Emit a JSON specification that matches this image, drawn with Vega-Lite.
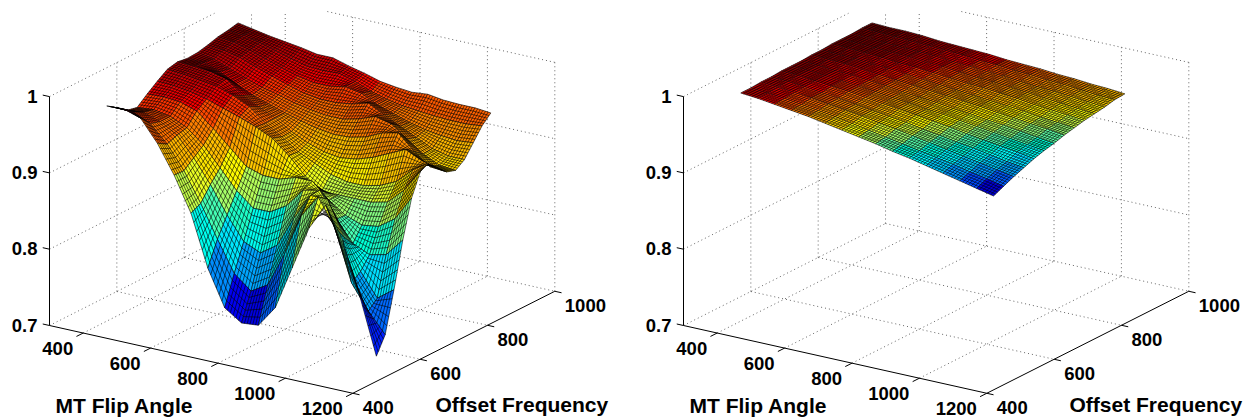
{"$schema":"https://vega.github.io/schema/vega-lite/v6.json","width":1246,"height":419,"padding":0,"autosize":{"type":"fit","contains":"padding"},"background":"white","view":{"stroke":null},"projection":{"type":"identity","scale":1,"translate":[0,0]},"datasets":{"frame":[
{"k":"dot","f":300,"o":600,"z":0.7,"f2":300,"o2":600,"z2":1},{"k":"dot","f":300,"o":800,"z":0.7,"f2":300,"o2":800,"z2":1},{"k":"dot","f":300,"o":1000,"z":0.7,"f2":300,"o2":1000,"z2":0.976},
{"k":"dot","f":400,"o":1000,"z":0.7,"f2":400,"o2":1000,"z2":0.986},{"k":"dot","f":600,"o":1000,"z":0.7,"f2":600,"o2":1000,"z2":1},{"k":"dot","f":800,"o":1000,"z":0.7,"f2":800,"o2":1000,"z2":1},{"k":"dot","f":1000,"o":1000,"z":0.7,"f2":1000,"o2":1000,"z2":1},{"k":"dot","f":1200,"o":1000,"z":0.7,"f2":1200,"o2":1000,"z2":1},
{"k":"dot","f":300,"o":400,"z":0.8,"f2":300,"o2":1000,"z2":0.8},{"k":"dot","f":300,"o":400,"z":0.9,"f2":300,"o2":1000,"z2":0.9},{"k":"dot","f":300,"o":400,"z":1,"f2":300,"o2":890,"z2":1},
{"k":"dot","f":300,"o":1000,"z":0.8,"f2":1200,"o2":1000,"z2":0.8},{"k":"dot","f":300,"o":1000,"z":0.9,"f2":1200,"o2":1000,"z2":0.9},{"k":"dot","f":525,"o":1000,"z":1,"f2":1200,"o2":1000,"z2":1},
{"k":"dot","f":300,"o":400,"z":0.7,"f2":300,"o2":1000,"z2":0.7},{"k":"dot","f":300,"o":1000,"z":0.7,"f2":1200,"o2":1000,"z2":0.7},
{"k":"dot","f":400,"o":400,"z":0.7,"f2":400,"o2":1000,"z2":0.7},{"k":"dot","f":600,"o":400,"z":0.7,"f2":600,"o2":1000,"z2":0.7},{"k":"dot","f":800,"o":400,"z":0.7,"f2":800,"o2":1000,"z2":0.7},{"k":"dot","f":1000,"o":400,"z":0.7,"f2":1000,"o2":1000,"z2":0.7},
{"k":"dot","f":300,"o":600,"z":0.7,"f2":1200,"o2":600,"z2":0.7},{"k":"dot","f":300,"o":800,"z":0.7,"f2":1200,"o2":800,"z2":0.7},
{"k":"ax","f":300,"o":400,"z":0.7,"f2":1200,"o2":400,"z2":0.7},{"k":"ax","f":1200,"o":400,"z":0.7,"f2":1200,"o2":1000,"z2":0.7},{"k":"ax","f":300,"o":400,"z":0.7,"f2":300,"o2":400,"z2":1},
{"k":"ax","f":300,"o":400,"z":0.7,"f2":280,"o2":400,"z2":0.7},{"k":"ax","f":300,"o":400,"z":0.8,"f2":280,"o2":400,"z2":0.8},{"k":"ax","f":300,"o":400,"z":0.9,"f2":280,"o2":400,"z2":0.9},{"k":"ax","f":300,"o":400,"z":1,"f2":280,"o2":400,"z2":1},
{"k":"ax","f":400,"o":400,"z":0.7,"f2":400,"o2":380,"z2":0.7},{"k":"ax","f":600,"o":400,"z":0.7,"f2":600,"o2":380,"z2":0.7},{"k":"ax","f":800,"o":400,"z":0.7,"f2":800,"o2":380,"z2":0.7},{"k":"ax","f":1000,"o":400,"z":0.7,"f2":1000,"o2":380,"z2":0.7},{"k":"ax","f":1200,"o":400,"z":0.7,"f2":1200,"o2":380,"z2":0.7},
{"k":"ax","f":1200,"o":400,"z":0.7,"f2":1220,"o2":400,"z2":0.7},{"k":"ax","f":1200,"o":600,"z":0.7,"f2":1220,"o2":600,"z2":0.7},{"k":"ax","f":1200,"o":800,"z":0.7,"f2":1220,"o2":800,"z2":0.7},{"k":"ax","f":1200,"o":1000,"z":0.7,"f2":1220,"o2":1000,"z2":0.7}
],"labels":[
{"k":"f","t":"400","f":400,"o":400,"z":0.7},{"k":"f","t":"600","f":600,"o":400,"z":0.7},{"k":"f","t":"800","f":800,"o":400,"z":0.7},{"k":"f","t":"1000","f":1000,"o":400,"z":0.7},{"k":"f","t":"1200","f":1200,"o":400,"z":0.7},
{"k":"o","t":"400","f":1200,"o":400,"z":0.7},{"k":"o","t":"600","f":1200,"o":600,"z":0.7},{"k":"o","t":"800","f":1200,"o":800,"z":0.7},{"k":"o","t":"1000","f":1200,"o":1000,"z":0.7},
{"k":"z","t":"0.7","f":300,"o":400,"z":0.7},{"k":"z","t":"0.8","f":300,"o":400,"z":0.8},{"k":"z","t":"0.9","f":300,"o":400,"z":0.9},{"k":"z","t":"1","f":300,"o":400,"z":1},
{"k":"t","t":"MT Flip Angle","f":521,"o":400,"z":0.615},{"k":"t","t":"Offset Frequency","f":1200,"o":902,"z":0.572}
],"surface":[
{"p":"A","f":400,"o":860,"z":1.004},{"p":"A","f":450,"o":860,"z":1.0},{"p":"A","f":500,"o":860,"z":0.996},{"p":"A","f":550,"o":860,"z":0.993},{"p":"A","f":600,"o":860,"z":0.99},{"p":"A","f":650,"o":860,"z":0.986},{"p":"A","f":700,"o":860,"z":0.986},{"p":"A","f":750,"o":860,"z":0.98},{"p":"A","f":800,"o":860,"z":0.975},{"p":"A","f":850,"o":860,"z":0.969},{"p":"A","f":900,"o":860,"z":0.966},{"p":"A","f":950,"o":860,"z":0.964},{"p":"A","f":1000,"o":860,"z":0.966},{"p":"A","f":1050,"o":860,"z":0.963},{"p":"A","f":1100,"o":860,"z":0.962},{"p":"A","f":1150,"o":860,"z":0.962},{"p":"A","f":1200,"o":860,"z":0.96},
{"p":"A","f":400,"o":830,"z":1.001},{"p":"A","f":450,"o":830,"z":0.999},{"p":"A","f":500,"o":830,"z":0.994},{"p":"A","f":550,"o":830,"z":0.988},{"p":"A","f":600,"o":830,"z":0.982},{"p":"A","f":650,"o":830,"z":0.977},{"p":"A","f":700,"o":830,"z":0.976},{"p":"A","f":750,"o":830,"z":0.977},{"p":"A","f":800,"o":830,"z":0.971},{"p":"A","f":850,"o":830,"z":0.963},{"p":"A","f":900,"o":830,"z":0.957},{"p":"A","f":950,"o":830,"z":0.953},{"p":"A","f":1000,"o":830,"z":0.951},{"p":"A","f":1050,"o":830,"z":0.949},{"p":"A","f":1100,"o":830,"z":0.948},{"p":"A","f":1150,"o":830,"z":0.948},{"p":"A","f":1200,"o":830,"z":0.95},
{"p":"A","f":400,"o":800,"z":0.999},{"p":"A","f":450,"o":800,"z":0.997},{"p":"A","f":500,"o":800,"z":0.991},{"p":"A","f":550,"o":800,"z":0.984},{"p":"A","f":600,"o":800,"z":0.977},{"p":"A","f":650,"o":800,"z":0.971},{"p":"A","f":700,"o":800,"z":0.967},{"p":"A","f":750,"o":800,"z":0.967},{"p":"A","f":800,"o":800,"z":0.971},{"p":"A","f":850,"o":800,"z":0.967},{"p":"A","f":900,"o":800,"z":0.957},{"p":"A","f":950,"o":800,"z":0.95},{"p":"A","f":1000,"o":800,"z":0.943},{"p":"A","f":1050,"o":800,"z":0.938},{"p":"A","f":1100,"o":800,"z":0.935},{"p":"A","f":1150,"o":800,"z":0.933},{"p":"A","f":1200,"o":800,"z":0.935},
{"p":"A","f":400,"o":770,"z":0.995},{"p":"A","f":450,"o":770,"z":0.993},{"p":"A","f":500,"o":770,"z":0.988},{"p":"A","f":550,"o":770,"z":0.98},{"p":"A","f":600,"o":770,"z":0.973},{"p":"A","f":650,"o":770,"z":0.966},{"p":"A","f":700,"o":770,"z":0.96},{"p":"A","f":750,"o":770,"z":0.957},{"p":"A","f":800,"o":770,"z":0.957},{"p":"A","f":850,"o":770,"z":0.96},{"p":"A","f":900,"o":770,"z":0.966},{"p":"A","f":950,"o":770,"z":0.955},{"p":"A","f":1000,"o":770,"z":0.945},{"p":"A","f":1050,"o":770,"z":0.935},{"p":"A","f":1100,"o":770,"z":0.925},{"p":"A","f":1150,"o":770,"z":0.92},{"p":"A","f":1200,"o":770,"z":0.92},
{"p":"A","f":400,"o":740,"z":0.992},{"p":"A","f":450,"o":740,"z":0.988},{"p":"A","f":500,"o":740,"z":0.98},{"p":"A","f":550,"o":740,"z":0.972},{"p":"A","f":600,"o":740,"z":0.965},{"p":"A","f":650,"o":740,"z":0.96},{"p":"A","f":700,"o":740,"z":0.954},{"p":"A","f":750,"o":740,"z":0.95},{"p":"A","f":800,"o":740,"z":0.947},{"p":"A","f":850,"o":740,"z":0.947},{"p":"A","f":900,"o":740,"z":0.952},{"p":"A","f":950,"o":740,"z":0.96},{"p":"A","f":1000,"o":740,"z":0.955},{"p":"A","f":1050,"o":740,"z":0.94},{"p":"A","f":1100,"o":740,"z":0.925},{"p":"A","f":1150,"o":740,"z":0.915},{"p":"A","f":1200,"o":740,"z":0.913},
{"p":"A","f":400,"o":710,"z":0.991},{"p":"A","f":450,"o":710,"z":0.99},{"p":"A","f":500,"o":710,"z":0.983},{"p":"A","f":550,"o":710,"z":0.972},{"p":"A","f":600,"o":710,"z":0.962},{"p":"A","f":650,"o":710,"z":0.955},{"p":"A","f":700,"o":710,"z":0.948},{"p":"A","f":750,"o":710,"z":0.942},{"p":"A","f":800,"o":710,"z":0.937},{"p":"A","f":850,"o":710,"z":0.934},{"p":"A","f":900,"o":710,"z":0.935},{"p":"A","f":950,"o":710,"z":0.94},{"p":"A","f":1000,"o":710,"z":0.95},{"p":"A","f":1050,"o":710,"z":0.955},{"p":"A","f":1100,"o":710,"z":0.935},{"p":"A","f":1150,"o":710,"z":0.92},{"p":"A","f":1200,"o":710,"z":0.918},
{"p":"A","f":400,"o":680,"z":0.993},{"p":"A","f":450,"o":680,"z":0.992},{"p":"A","f":500,"o":680,"z":0.99},{"p":"A","f":550,"o":680,"z":0.985},{"p":"A","f":600,"o":680,"z":0.968},{"p":"A","f":650,"o":680,"z":0.958},{"p":"A","f":700,"o":680,"z":0.948},{"p":"A","f":750,"o":680,"z":0.935},{"p":"A","f":800,"o":680,"z":0.925},{"p":"A","f":850,"o":680,"z":0.918},{"p":"A","f":900,"o":680,"z":0.915},{"p":"A","f":950,"o":680,"z":0.918},{"p":"A","f":1000,"o":680,"z":0.925},{"p":"A","f":1050,"o":680,"z":0.935},{"p":"A","f":1100,"o":680,"z":0.945},{"p":"A","f":1150,"o":680,"z":0.935},{"p":"A","f":1200,"o":680,"z":0.93},
{"p":"A","f":400,"o":650,"z":0.99},{"p":"A","f":450,"o":650,"z":0.988},{"p":"A","f":500,"o":650,"z":0.985},{"p":"A","f":550,"o":650,"z":0.982},{"p":"A","f":600,"o":650,"z":0.975},{"p":"A","f":650,"o":650,"z":0.965},{"p":"A","f":700,"o":650,"z":0.948},{"p":"A","f":750,"o":650,"z":0.935},{"p":"A","f":800,"o":650,"z":0.92},{"p":"A","f":850,"o":650,"z":0.91},{"p":"A","f":900,"o":650,"z":0.9},{"p":"A","f":950,"o":650,"z":0.895},{"p":"A","f":1000,"o":650,"z":0.895},{"p":"A","f":1050,"o":650,"z":0.9},{"p":"A","f":1100,"o":650,"z":0.91},{"p":"A","f":1150,"o":650,"z":0.93},{"p":"A","f":1200,"o":650,"z":0.944},
{"p":"A","f":400,"o":620,"z":0.981},{"p":"A","f":450,"o":620,"z":0.98},{"p":"A","f":500,"o":620,"z":0.977},{"p":"A","f":550,"o":620,"z":0.972},{"p":"A","f":600,"o":620,"z":0.965},{"p":"A","f":650,"o":620,"z":0.958},{"p":"A","f":700,"o":620,"z":0.95},{"p":"A","f":750,"o":620,"z":0.94},{"p":"A","f":800,"o":620,"z":0.922},{"p":"A","f":850,"o":620,"z":0.9},{"p":"A","f":900,"o":620,"z":0.885},{"p":"A","f":950,"o":620,"z":0.885},{"p":"A","f":1000,"o":620,"z":0.885},{"p":"A","f":1050,"o":620,"z":0.885},{"p":"A","f":1100,"o":620,"z":0.89},{"p":"A","f":1150,"o":620,"z":0.91},{"p":"A","f":1200,"o":620,"z":0.94},
{"p":"A","f":400,"o":590,"z":0.971},{"p":"A","f":450,"o":590,"z":0.972},{"p":"A","f":500,"o":590,"z":0.97},{"p":"A","f":550,"o":590,"z":0.963},{"p":"A","f":600,"o":590,"z":0.945},{"p":"A","f":650,"o":590,"z":0.925},{"p":"A","f":700,"o":590,"z":0.905},{"p":"A","f":750,"o":590,"z":0.898},{"p":"A","f":800,"o":590,"z":0.898},{"p":"A","f":850,"o":590,"z":0.905},{"p":"A","f":900,"o":590,"z":0.905},{"p":"A","f":950,"o":590,"z":0.885},{"p":"A","f":1000,"o":590,"z":0.87},{"p":"A","f":1050,"o":590,"z":0.862},{"p":"A","f":1100,"o":590,"z":0.865},{"p":"A","f":1150,"o":590,"z":0.88},{"p":"A","f":1200,"o":590,"z":0.912},
{"p":"A","f":400,"o":560,"z":0.96},{"p":"A","f":450,"o":560,"z":0.962},{"p":"A","f":500,"o":560,"z":0.958},{"p":"A","f":550,"o":560,"z":0.948},{"p":"A","f":600,"o":560,"z":0.93},{"p":"A","f":650,"o":560,"z":0.905},{"p":"A","f":700,"o":560,"z":0.88},{"p":"A","f":750,"o":560,"z":0.862},{"p":"A","f":800,"o":560,"z":0.862},{"p":"A","f":850,"o":560,"z":0.875},{"p":"A","f":900,"o":560,"z":0.9},{"p":"A","f":950,"o":560,"z":0.905},{"p":"A","f":1000,"o":560,"z":0.872},{"p":"A","f":1050,"o":560,"z":0.845},{"p":"A","f":1100,"o":560,"z":0.835},{"p":"A","f":1150,"o":560,"z":0.84},{"p":"A","f":1200,"o":560,"z":0.864},
{"p":"A","f":400,"o":530,"z":0.963},{"p":"A","f":450,"o":530,"z":0.965},{"p":"A","f":500,"o":530,"z":0.958},{"p":"A","f":550,"o":530,"z":0.945},{"p":"A","f":600,"o":530,"z":0.92},{"p":"A","f":650,"o":530,"z":0.89},{"p":"A","f":700,"o":530,"z":0.855},{"p":"A","f":750,"o":530,"z":0.825},{"p":"A","f":800,"o":530,"z":0.815},{"p":"A","f":850,"o":530,"z":0.83},{"p":"A","f":900,"o":530,"z":0.87},{"p":"A","f":950,"o":530,"z":0.905},{"p":"A","f":1000,"o":530,"z":0.905},{"p":"A","f":1050,"o":530,"z":0.86},{"p":"A","f":1100,"o":530,"z":0.82},{"p":"A","f":1150,"o":530,"z":0.79},{"p":"A","f":1200,"o":530,"z":0.806},
{"p":"A","f":400,"o":500,"z":0.973},{"p":"A","f":450,"o":500,"z":0.972},{"p":"A","f":500,"o":500,"z":0.962},{"p":"A","f":550,"o":500,"z":0.94},{"p":"A","f":600,"o":500,"z":0.91},{"p":"A","f":650,"o":500,"z":0.872},{"p":"A","f":700,"o":500,"z":0.83},{"p":"A","f":750,"o":500,"z":0.79},{"p":"A","f":800,"o":500,"z":0.772},{"p":"A","f":850,"o":500,"z":0.785},{"p":"A","f":900,"o":500,"z":0.83},{"p":"A","f":950,"o":500,"z":0.885},{"p":"A","f":1000,"o":500,"z":0.915},{"p":"A","f":1050,"o":500,"z":0.88},{"p":"A","f":1100,"o":500,"z":0.812},{"p":"A","f":1150,"o":500,"z":0.78},{"p":"A","f":1200,"o":500,"z":0.754},
{"p":"A","f":400,"o":470,"z":0.982},{"p":"A","f":450,"o":470,"z":0.983},{"p":"A","f":500,"o":470,"z":0.976},{"p":"A","f":550,"o":470,"z":0.948},{"p":"A","f":600,"o":470,"z":0.911},{"p":"A","f":650,"o":470,"z":0.866},{"p":"A","f":700,"o":470,"z":0.799},{"p":"A","f":750,"o":470,"z":0.752},{"p":"A","f":800,"o":470,"z":0.737},{"p":"A","f":850,"o":470,"z":0.739},{"p":"A","f":900,"o":470,"z":0.767},{"p":"A","f":950,"o":470,"z":0.824},{"p":"A","f":1000,"o":470,"z":0.881},{"p":"A","f":1050,"o":470,"z":0.916},{"p":"A","f":1100,"o":470,"z":0.875},{"p":"A","f":1150,"o":470,"z":0.808},{"p":"A","f":1200,"o":470,"z":0.733},
{"p":"B","f":400,"o":860,"z":1.004},{"p":"B","f":450,"o":860,"z":1.003},{"p":"B","f":500,"o":860,"z":1.003},{"p":"B","f":550,"o":860,"z":1.002},{"p":"B","f":600,"o":860,"z":1.0},{"p":"B","f":650,"o":860,"z":0.999},{"p":"B","f":700,"o":860,"z":0.998},{"p":"B","f":750,"o":860,"z":0.997},{"p":"B","f":800,"o":860,"z":0.995},{"p":"B","f":850,"o":860,"z":0.994},{"p":"B","f":900,"o":860,"z":0.993},{"p":"B","f":950,"o":860,"z":0.991},{"p":"B","f":1000,"o":860,"z":0.99},{"p":"B","f":1050,"o":860,"z":0.988},{"p":"B","f":1100,"o":860,"z":0.987},{"p":"B","f":1150,"o":860,"z":0.985},
{"p":"B","f":400,"o":830,"z":1.004},{"p":"B","f":450,"o":830,"z":1.003},{"p":"B","f":500,"o":830,"z":1.002},{"p":"B","f":550,"o":830,"z":1.001},{"p":"B","f":600,"o":830,"z":1.0},{"p":"B","f":650,"o":830,"z":0.999},{"p":"B","f":700,"o":830,"z":0.998},{"p":"B","f":750,"o":830,"z":0.996},{"p":"B","f":800,"o":830,"z":0.995},{"p":"B","f":850,"o":830,"z":0.993},{"p":"B","f":900,"o":830,"z":0.992},{"p":"B","f":950,"o":830,"z":0.99},{"p":"B","f":1000,"o":830,"z":0.989},{"p":"B","f":1050,"o":830,"z":0.987},{"p":"B","f":1100,"o":830,"z":0.985},{"p":"B","f":1150,"o":830,"z":0.984},
{"p":"B","f":400,"o":800,"z":1.003},{"p":"B","f":450,"o":800,"z":1.002},{"p":"B","f":500,"o":800,"z":1.001},{"p":"B","f":550,"o":800,"z":1.0},{"p":"B","f":600,"o":800,"z":0.999},{"p":"B","f":650,"o":800,"z":0.998},{"p":"B","f":700,"o":800,"z":0.996},{"p":"B","f":750,"o":800,"z":0.995},{"p":"B","f":800,"o":800,"z":0.993},{"p":"B","f":850,"o":800,"z":0.992},{"p":"B","f":900,"o":800,"z":0.99},{"p":"B","f":950,"o":800,"z":0.988},{"p":"B","f":1000,"o":800,"z":0.987},{"p":"B","f":1050,"o":800,"z":0.985},{"p":"B","f":1100,"o":800,"z":0.983},{"p":"B","f":1150,"o":800,"z":0.981},
{"p":"B","f":400,"o":770,"z":1.003},{"p":"B","f":450,"o":770,"z":1.002},{"p":"B","f":500,"o":770,"z":1.001},{"p":"B","f":550,"o":770,"z":1.0},{"p":"B","f":600,"o":770,"z":0.999},{"p":"B","f":650,"o":770,"z":0.997},{"p":"B","f":700,"o":770,"z":0.996},{"p":"B","f":750,"o":770,"z":0.994},{"p":"B","f":800,"o":770,"z":0.992},{"p":"B","f":850,"o":770,"z":0.991},{"p":"B","f":900,"o":770,"z":0.989},{"p":"B","f":950,"o":770,"z":0.987},{"p":"B","f":1000,"o":770,"z":0.985},{"p":"B","f":1050,"o":770,"z":0.983},{"p":"B","f":1100,"o":770,"z":0.981},{"p":"B","f":1150,"o":770,"z":0.979},
{"p":"B","f":400,"o":740,"z":1.003},{"p":"B","f":450,"o":740,"z":1.002},{"p":"B","f":500,"o":740,"z":1.001},{"p":"B","f":550,"o":740,"z":1.0},{"p":"B","f":600,"o":740,"z":0.998},{"p":"B","f":650,"o":740,"z":0.997},{"p":"B","f":700,"o":740,"z":0.995},{"p":"B","f":750,"o":740,"z":0.993},{"p":"B","f":800,"o":740,"z":0.991},{"p":"B","f":850,"o":740,"z":0.99},{"p":"B","f":900,"o":740,"z":0.988},{"p":"B","f":950,"o":740,"z":0.986},{"p":"B","f":1000,"o":740,"z":0.983},{"p":"B","f":1050,"o":740,"z":0.981},{"p":"B","f":1100,"o":740,"z":0.979},{"p":"B","f":1150,"o":740,"z":0.977},
{"p":"B","f":400,"o":710,"z":1.002},{"p":"B","f":450,"o":710,"z":1.001},{"p":"B","f":500,"o":710,"z":1.0},{"p":"B","f":550,"o":710,"z":0.998},{"p":"B","f":600,"o":710,"z":0.997},{"p":"B","f":650,"o":710,"z":0.995},{"p":"B","f":700,"o":710,"z":0.993},{"p":"B","f":750,"o":710,"z":0.991},{"p":"B","f":800,"o":710,"z":0.989},{"p":"B","f":850,"o":710,"z":0.987},{"p":"B","f":900,"o":710,"z":0.985},{"p":"B","f":950,"o":710,"z":0.983},{"p":"B","f":1000,"o":710,"z":0.981},{"p":"B","f":1050,"o":710,"z":0.978},{"p":"B","f":1100,"o":710,"z":0.976},{"p":"B","f":1150,"o":710,"z":0.974},
{"p":"B","f":400,"o":680,"z":1.002},{"p":"B","f":450,"o":680,"z":1.001},{"p":"B","f":500,"o":680,"z":1.0},{"p":"B","f":550,"o":680,"z":0.998},{"p":"B","f":600,"o":680,"z":0.996},{"p":"B","f":650,"o":680,"z":0.994},{"p":"B","f":700,"o":680,"z":0.992},{"p":"B","f":750,"o":680,"z":0.99},{"p":"B","f":800,"o":680,"z":0.988},{"p":"B","f":850,"o":680,"z":0.986},{"p":"B","f":900,"o":680,"z":0.984},{"p":"B","f":950,"o":680,"z":0.981},{"p":"B","f":1000,"o":680,"z":0.979},{"p":"B","f":1050,"o":680,"z":0.976},{"p":"B","f":1100,"o":680,"z":0.974},{"p":"B","f":1150,"o":680,"z":0.971},
{"p":"B","f":400,"o":650,"z":1.001},{"p":"B","f":450,"o":650,"z":1.0},{"p":"B","f":500,"o":650,"z":0.998},{"p":"B","f":550,"o":650,"z":0.997},{"p":"B","f":600,"o":650,"z":0.995},{"p":"B","f":650,"o":650,"z":0.993},{"p":"B","f":700,"o":650,"z":0.99},{"p":"B","f":750,"o":650,"z":0.988},{"p":"B","f":800,"o":650,"z":0.986},{"p":"B","f":850,"o":650,"z":0.983},{"p":"B","f":900,"o":650,"z":0.981},{"p":"B","f":950,"o":650,"z":0.978},{"p":"B","f":1000,"o":650,"z":0.976},{"p":"B","f":1050,"o":650,"z":0.973},{"p":"B","f":1100,"o":650,"z":0.97},{"p":"B","f":1150,"o":650,"z":0.967},
{"p":"B","f":400,"o":620,"z":1.001},{"p":"B","f":450,"o":620,"z":1.0},{"p":"B","f":500,"o":620,"z":0.998},{"p":"B","f":550,"o":620,"z":0.996},{"p":"B","f":600,"o":620,"z":0.994},{"p":"B","f":650,"o":620,"z":0.992},{"p":"B","f":700,"o":620,"z":0.989},{"p":"B","f":750,"o":620,"z":0.987},{"p":"B","f":800,"o":620,"z":0.984},{"p":"B","f":850,"o":620,"z":0.982},{"p":"B","f":900,"o":620,"z":0.979},{"p":"B","f":950,"o":620,"z":0.976},{"p":"B","f":1000,"o":620,"z":0.973},{"p":"B","f":1050,"o":620,"z":0.97},{"p":"B","f":1100,"o":620,"z":0.967},{"p":"B","f":1150,"o":620,"z":0.964},
{"p":"B","f":400,"o":590,"z":1.001},{"p":"B","f":450,"o":590,"z":1.0},{"p":"B","f":500,"o":590,"z":0.998},{"p":"B","f":550,"o":590,"z":0.996},{"p":"B","f":600,"o":590,"z":0.994},{"p":"B","f":650,"o":590,"z":0.991},{"p":"B","f":700,"o":590,"z":0.988},{"p":"B","f":750,"o":590,"z":0.986},{"p":"B","f":800,"o":590,"z":0.983},{"p":"B","f":850,"o":590,"z":0.98},{"p":"B","f":900,"o":590,"z":0.977},{"p":"B","f":950,"o":590,"z":0.973},{"p":"B","f":1000,"o":590,"z":0.97},{"p":"B","f":1050,"o":590,"z":0.967},{"p":"B","f":1100,"o":590,"z":0.964},{"p":"B","f":1150,"o":590,"z":0.96},
{"p":"B","f":400,"o":560,"z":1.0},{"p":"B","f":450,"o":560,"z":0.999},{"p":"B","f":500,"o":560,"z":0.997},{"p":"B","f":550,"o":560,"z":0.994},{"p":"B","f":600,"o":560,"z":0.992},{"p":"B","f":650,"o":560,"z":0.989},{"p":"B","f":700,"o":560,"z":0.986},{"p":"B","f":750,"o":560,"z":0.983},{"p":"B","f":800,"o":560,"z":0.98},{"p":"B","f":850,"o":560,"z":0.976},{"p":"B","f":900,"o":560,"z":0.973},{"p":"B","f":950,"o":560,"z":0.969},{"p":"B","f":1000,"o":560,"z":0.966},{"p":"B","f":1050,"o":560,"z":0.962},{"p":"B","f":1100,"o":560,"z":0.958},{"p":"B","f":1150,"o":560,"z":0.955},
{"p":"B","f":400,"o":530,"z":1.0},{"p":"B","f":450,"o":530,"z":0.998},{"p":"B","f":500,"o":530,"z":0.996},{"p":"B","f":550,"o":530,"z":0.994},{"p":"B","f":600,"o":530,"z":0.991},{"p":"B","f":650,"o":530,"z":0.988},{"p":"B","f":700,"o":530,"z":0.985},{"p":"B","f":750,"o":530,"z":0.981},{"p":"B","f":800,"o":530,"z":0.978},{"p":"B","f":850,"o":530,"z":0.974},{"p":"B","f":900,"o":530,"z":0.97},{"p":"B","f":950,"o":530,"z":0.966},{"p":"B","f":1000,"o":530,"z":0.962},{"p":"B","f":1050,"o":530,"z":0.958},{"p":"B","f":1100,"o":530,"z":0.954},{"p":"B","f":1150,"o":530,"z":0.95},
{"p":"B","f":400,"o":500,"z":0.999},{"p":"B","f":450,"o":500,"z":0.997},{"p":"B","f":500,"o":500,"z":0.995},{"p":"B","f":550,"o":500,"z":0.992},{"p":"B","f":600,"o":500,"z":0.989},{"p":"B","f":650,"o":500,"z":0.986},{"p":"B","f":700,"o":500,"z":0.982},{"p":"B","f":750,"o":500,"z":0.978},{"p":"B","f":800,"o":500,"z":0.974},{"p":"B","f":850,"o":500,"z":0.97},{"p":"B","f":900,"o":500,"z":0.966},{"p":"B","f":950,"o":500,"z":0.962},{"p":"B","f":1000,"o":500,"z":0.958},{"p":"B","f":1050,"o":500,"z":0.953},{"p":"B","f":1100,"o":500,"z":0.949},{"p":"B","f":1150,"o":500,"z":0.944},
{"p":"B","f":400,"o":470,"z":0.999},{"p":"B","f":450,"o":470,"z":0.997},{"p":"B","f":500,"o":470,"z":0.994},{"p":"B","f":550,"o":470,"z":0.991},{"p":"B","f":600,"o":470,"z":0.988},{"p":"B","f":650,"o":470,"z":0.984},{"p":"B","f":700,"o":470,"z":0.98},{"p":"B","f":750,"o":470,"z":0.976},{"p":"B","f":800,"o":470,"z":0.972},{"p":"B","f":850,"o":470,"z":0.967},{"p":"B","f":900,"o":470,"z":0.963},{"p":"B","f":950,"o":470,"z":0.958},{"p":"B","f":1000,"o":470,"z":0.953},{"p":"B","f":1050,"o":470,"z":0.948},{"p":"B","f":1100,"o":470,"z":0.943},{"p":"B","f":1150,"o":470,"z":0.938}
]},
"layer":[
{"data":{"name":"frame"},"transform":[{"filter":"datum.k=='dot'"},{"calculate":"[0,634]","as":"dx"},{"flatten":["dx"]},
{"calculate":"datum.dx+49.5+(datum.f-300)*0.337+(datum.o-400)*0.3367","as":"x1"},{"calculate":"325.5+(datum.f-300)*0.0753-(datum.o-400)*0.17-(datum.z-0.7)*763","as":"y1"},
{"calculate":"datum.dx+49.5+(datum.f2-300)*0.337+(datum.o2-400)*0.3367","as":"x2"},{"calculate":"325.5+(datum.f2-300)*0.0753-(datum.o2-400)*0.17-(datum.z2-0.7)*763","as":"y2"}],
"mark":{"type":"rule","stroke":"#555555","strokeWidth":0.9,"strokeDash":[1,3]},
"encoding":{"longitude":{"field":"x1","type":"quantitative"},"latitude":{"field":"y1","type":"quantitative"},"longitude2":{"field":"x2"},"latitude2":{"field":"y2"}}},
{"data":{"name":"frame"},"transform":[{"filter":"datum.k=='ax'"},{"calculate":"[0,634]","as":"dx"},{"flatten":["dx"]},
{"calculate":"datum.dx+49.5+(datum.f-300)*0.337+(datum.o-400)*0.3367","as":"x1"},{"calculate":"325.5+(datum.f-300)*0.0753-(datum.o-400)*0.17-(datum.z-0.7)*763","as":"y1"},
{"calculate":"datum.dx+49.5+(datum.f2-300)*0.337+(datum.o2-400)*0.3367","as":"x2"},{"calculate":"325.5+(datum.f2-300)*0.0753-(datum.o2-400)*0.17-(datum.z2-0.7)*763","as":"y2"}],
"mark":{"type":"rule","stroke":"#000000","strokeWidth":1},
"encoding":{"longitude":{"field":"x1","type":"quantitative"},"latitude":{"field":"y1","type":"quantitative"},"longitude2":{"field":"x2"},"latitude2":{"field":"y2"}}},
{"data":{"name":"surface"},"transform":[
{"window":[{"op":"lead","field":"z","as":"z10"}],"groupby":["p","o"],"sort":[{"field":"f","order":"ascending"}]},
{"window":[{"op":"lead","field":"z","as":"z01"},{"op":"lead","field":"z10","as":"z11"}],"groupby":["p","f"],"sort":[{"field":"o","order":"ascending"}]},
{"filter":"isValid(datum.z10)&&isValid(datum.z01)&&isValid(datum.z11)"},
{"calculate":"datum.p=='A'?0.0625/390:0","as":"s"},
{"calculate":"1-datum.s*(datum.o-470)","as":"k0"},{"calculate":"1-datum.s*(datum.o-440)","as":"k1"},
{"calculate":"datum.p=='A'?49.5:683.5","as":"x0"},
{"calculate":"datum.x0+(100+(datum.f-400)*datum.k0)*0.337+(datum.o-400)*0.3367","as":"xa"},
{"calculate":"325.5+(100+(datum.f-400)*datum.k0)*0.0753-(datum.o-400)*0.17-(datum.z-0.7)*763","as":"ya"},
{"calculate":"datum.x0+(100+(datum.f-350)*datum.k0)*0.337+(datum.o-400)*0.3367","as":"xb"},
{"calculate":"325.5+(100+(datum.f-350)*datum.k0)*0.0753-(datum.o-400)*0.17-(datum.z10-0.7)*763","as":"yb"},
{"calculate":"datum.x0+(100+(datum.f-400)*datum.k1)*0.337+(datum.o-370)*0.3367","as":"xc"},
{"calculate":"325.5+(100+(datum.f-400)*datum.k1)*0.0753-(datum.o-370)*0.17-(datum.z01-0.7)*763","as":"yc"},
{"calculate":"datum.x0+(100+(datum.f-350)*datum.k1)*0.337+(datum.o-370)*0.3367","as":"xd"},
{"calculate":"325.5+(100+(datum.f-350)*datum.k1)*0.0753-(datum.o-370)*0.17-(datum.z11-0.7)*763","as":"yd"},
{"calculate":"datum.xb-datum.xa","as":"ex"},{"calculate":"datum.yb-datum.ya","as":"ey"},{"calculate":"datum.xd-datum.xc","as":"hx"},{"calculate":"datum.yd-datum.yc","as":"hy"},
{"calculate":"datum.xc-datum.xa","as":"gx"},{"calculate":"datum.yc-datum.ya","as":"gy"},{"calculate":"datum.xd-datum.xb","as":"jx"},{"calculate":"datum.yd-datum.yb","as":"jy"},
{"calculate":"[[[datum.xa+0.167*datum.ex,datum.ya+0.167*datum.ey],[datum.xc+0.167*datum.hx,datum.yc+0.167*datum.hy]],[[datum.xa+0.333*datum.ex,datum.ya+0.333*datum.ey],[datum.xc+0.333*datum.hx,datum.yc+0.333*datum.hy]],[[datum.xa+0.5*datum.ex,datum.ya+0.5*datum.ey],[datum.xc+0.5*datum.hx,datum.yc+0.5*datum.hy]],[[datum.xa+0.667*datum.ex,datum.ya+0.667*datum.ey],[datum.xc+0.667*datum.hx,datum.yc+0.667*datum.hy]],[[datum.xa+0.833*datum.ex,datum.ya+0.833*datum.ey],[datum.xc+0.833*datum.hx,datum.yc+0.833*datum.hy]],[[datum.xa+0.2*datum.gx,datum.ya+0.2*datum.gy],[datum.xb+0.2*datum.jx,datum.yb+0.2*datum.jy]],[[datum.xa+0.4*datum.gx,datum.ya+0.4*datum.gy],[datum.xb+0.4*datum.jx,datum.yb+0.4*datum.jy]],[[datum.xa+0.6*datum.gx,datum.ya+0.6*datum.gy],[datum.xb+0.6*datum.jx,datum.yb+0.6*datum.jy]],[[datum.xa+0.8*datum.gx,datum.ya+0.8*datum.gy],[datum.xb+0.8*datum.jx,datum.yb+0.8*datum.jy]]]","as":"ml"},
{"calculate":"{type:'GeometryCollection',geometries:[{type:'Polygon',coordinates:[[[datum.xa,datum.ya],[datum.xb,datum.yb],[datum.xd,datum.yd],[datum.xc,datum.yc],[datum.xa,datum.ya]]]},{type:'MultiLineString',coordinates:datum.ml}]}","as":"g"},
{"calculate":"(datum.z+datum.z10+datum.z01+datum.z11)/4","as":"avg"},
{"calculate":"datum.p=='A'?(datum.avg-0.733)/0.271:(datum.avg-0.938)/0.066","as":"c"},
{"calculate":"-datum.o*10000+datum.f+(datum.p=='A'?0:100000000)","as":"d"}],
"mark":{"type":"geoshape","stroke":"#000000","strokeWidth":0.6},
"encoding":{"shape":{"field":"g","type":"geojson"},"color":{"field":"c","type":"quantitative","legend":null,"scale":{"domain":[0,0.125,0.375,0.625,0.875,1],"range":["#00008f","#0000ff","#00ffff","#ffff00","#ff0000","#800000"],"clamp":true}},"order":{"field":"d","type":"quantitative"}}},
{"data":{"name":"labels"},"transform":[{"filter":"datum.k=='f'"},{"calculate":"[0,634]","as":"dx"},{"flatten":["dx"]},{"calculate":"datum.dx+49.5+(datum.f-300)*0.337+(datum.o-400)*0.3367","as":"x1"},{"calculate":"325.5+(datum.f-300)*0.0753-(datum.o-400)*0.17-(datum.z-0.7)*763","as":"y1"}],
"mark":{"type":"text","font":"Liberation Sans","fontWeight":"bold","fontSize":18.5,"align":"right","baseline":"middle","dx":-10,"dy":16,"fill":"#000000"},
"encoding":{"longitude":{"field":"x1","type":"quantitative"},"latitude":{"field":"y1","type":"quantitative"},"text":{"field":"t"}}},
{"data":{"name":"labels"},"transform":[{"filter":"datum.k=='o'"},{"calculate":"[0,634]","as":"dx"},{"flatten":["dx"]},{"calculate":"datum.dx+49.5+(datum.f-300)*0.337+(datum.o-400)*0.3367","as":"x1"},{"calculate":"325.5+(datum.f-300)*0.0753-(datum.o-400)*0.17-(datum.z-0.7)*763","as":"y1"}],
"mark":{"type":"text","font":"Liberation Sans","fontWeight":"bold","fontSize":18.5,"align":"left","baseline":"middle","dx":10,"dy":15,"fill":"#000000"},
"encoding":{"longitude":{"field":"x1","type":"quantitative"},"latitude":{"field":"y1","type":"quantitative"},"text":{"field":"t"}}},
{"data":{"name":"labels"},"transform":[{"filter":"datum.k=='z'"},{"calculate":"[0,634]","as":"dx"},{"flatten":["dx"]},{"calculate":"datum.dx+49.5+(datum.f-300)*0.337+(datum.o-400)*0.3367","as":"x1"},{"calculate":"325.5+(datum.f-300)*0.0753-(datum.o-400)*0.17-(datum.z-0.7)*763","as":"y1"}],
"mark":{"type":"text","font":"Liberation Sans","fontWeight":"bold","fontSize":18.5,"align":"right","baseline":"middle","dx":-12,"dy":0,"fill":"#000000"},
"encoding":{"longitude":{"field":"x1","type":"quantitative"},"latitude":{"field":"y1","type":"quantitative"},"text":{"field":"t"}}},
{"data":{"name":"labels"},"transform":[{"filter":"datum.k=='t'"},{"calculate":"[0,634]","as":"dx"},{"flatten":["dx"]},{"calculate":"datum.dx+49.5+(datum.f-300)*0.337+(datum.o-400)*0.3367","as":"x1"},{"calculate":"325.5+(datum.f-300)*0.0753-(datum.o-400)*0.17-(datum.z-0.7)*763","as":"y1"}],
"mark":{"type":"text","font":"Liberation Sans","fontWeight":"bold","fontSize":21,"align":"center","baseline":"middle","fill":"#000000"},
"encoding":{"longitude":{"field":"x1","type":"quantitative"},"latitude":{"field":"y1","type":"quantitative"},"text":{"field":"t"}}}
]}
